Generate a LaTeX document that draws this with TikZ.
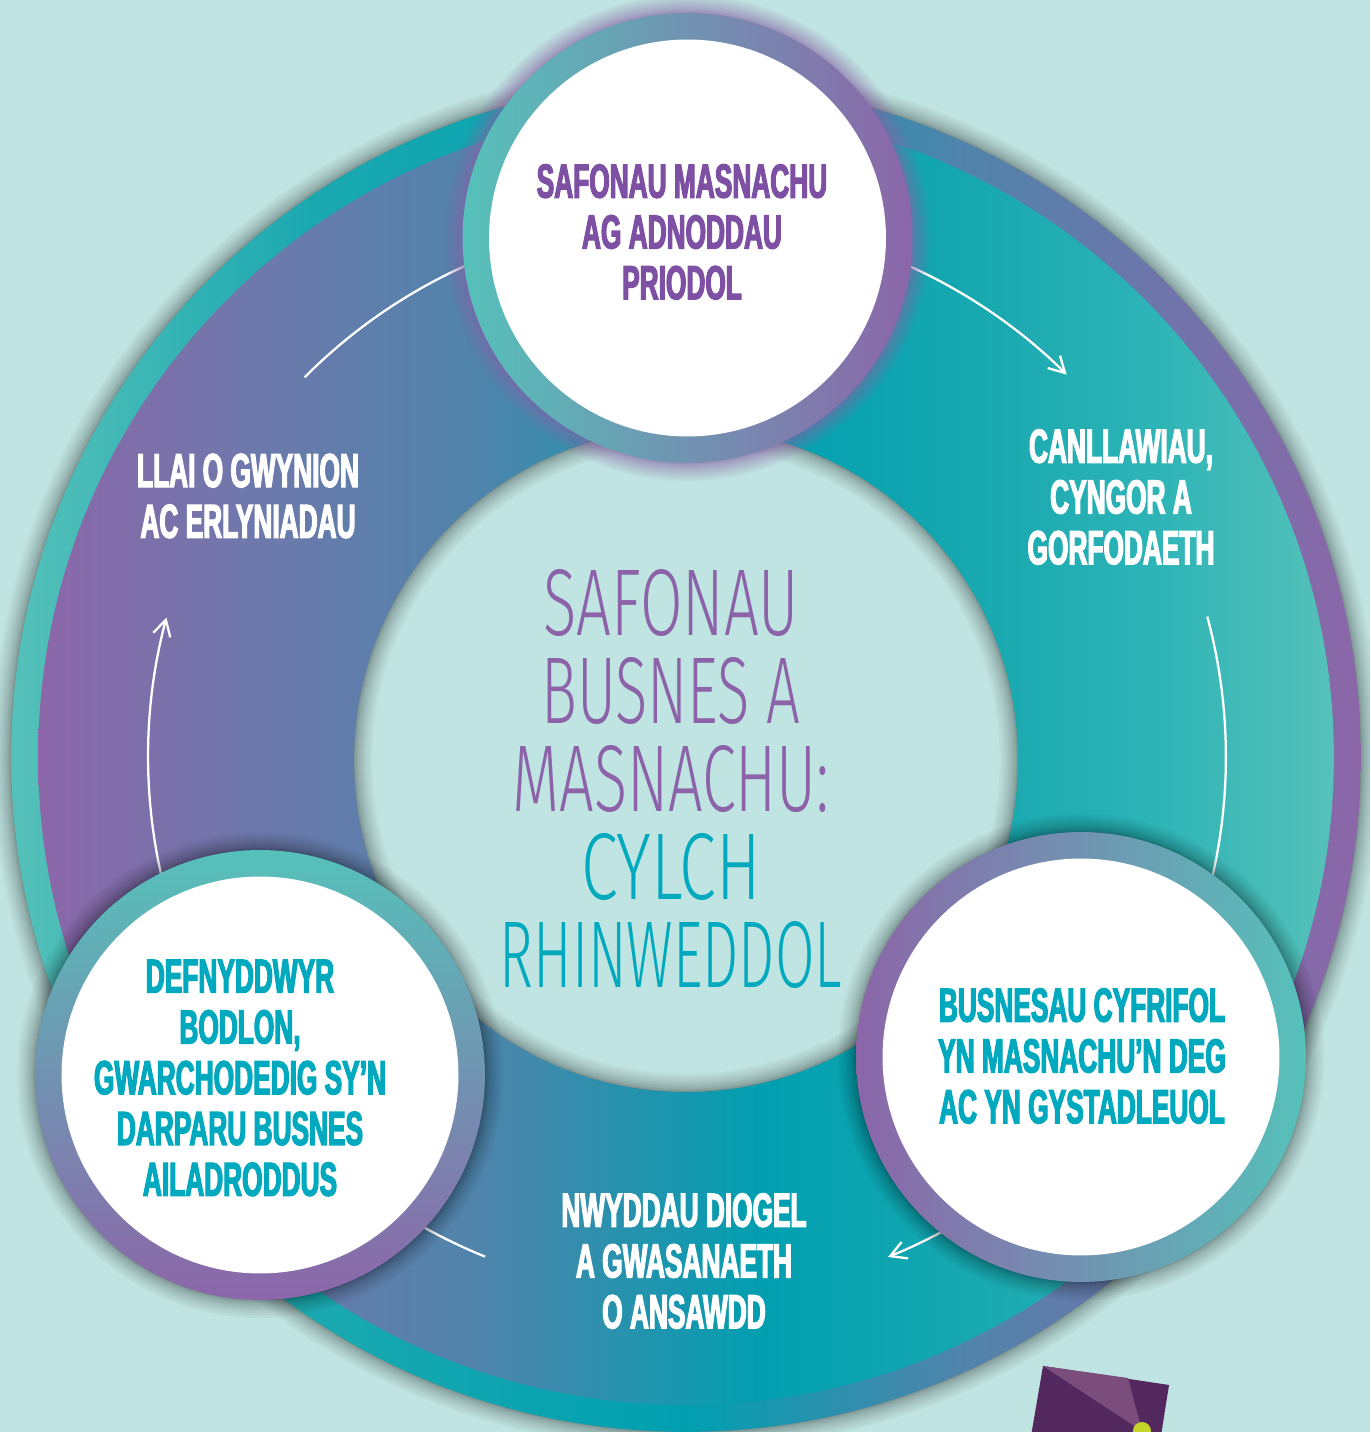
\documentclass[tikz,border=0pt]{standalone}
\usepackage{fontspec}
\usetikzlibrary{arrows.meta}
\newfontfamily\bebas[FakeStretch=0.55,FakeBold=2.5]{Liberation Sans Bold}
\newfontfamily\thinf{Fira Sans Light}
\newcommand{\lw}[2]{{\addfontfeature{FakeStretch=#1}#2}}
\definecolor{bgc}{HTML}{C0E4E1}
\definecolor{pur}{HTML}{8C66A9}
\definecolor{tealL}{HTML}{56C1BA}
\definecolor{blueA}{HTML}{6F78AB}
\definecolor{blueB}{HTML}{4F84AB}
\definecolor{tealM}{HTML}{009FB0}
\definecolor{tealN}{HTML}{1AA9B0}
\definecolor{tealO}{HTML}{2DB4B6}
\definecolor{tealP}{HTML}{1BA9B0}
\definecolor{txtP}{HTML}{8C62A9}
\definecolor{txtD}{HTML}{7E50A3}
\definecolor{txtT}{HTML}{00A9BE}
\definecolor{dkP}{HTML}{52285F}
\definecolor{ltP}{HTML}{7B4D7C}
\definecolor{yel}{HTML}{C4D52A}
\pgfdeclarehorizontalshading{outerband}{100bp}{color(0bp)=(tealL); color(25bp)=(tealL); color(36bp)=(tealP); color(50bp)=(tealM); color(60bp)=(blueB); color(75bp)=(pur); color(100bp)=(pur)}
\pgfdeclarehorizontalshading{innerband}{100bp}{color(0bp)=(pur); color(25bp)=(pur); color(33bp)=(blueA); color(42bp)=(blueB); color(53bp)=(tealM); color(62bp)=(tealN); color(68bp)=(tealO); color(75bp)=(tealL); color(100bp)=(tealL)}
\tikzset{
  px/.style={x=0.02cm,y=0.02cm},
  ringnode/.style={circle,inner sep=0pt,minimum size=9cm},
  facenode/.style={circle,inner sep=0pt,minimum size=7.94cm,fill=white},
  lab/.style={font=\bebas\fontsize{27.2}{28.9}\selectfont,align=center,inner sep=0pt},
  bigt/.style={font=\thinf\fontsize{54}{49.9}\selectfont,align=center,inner sep=0pt},
  flow/.style={draw=white,line width=1.3pt},
  tipped/.style={flow,-{Straight Barb[length=9pt,width=10pt,line width=1.3pt]}},
  soft/.style={fill=black,opacity=0.03},
  glow/.style={fill=pur,opacity=0.08},
}
\begin{document}
\begin{tikzpicture}[px]
\useasboundingbox (0,0) rectangle (1370,1432);
\clip (0,0) rectangle (1370,1432);
\fill[bgc] (0,0) rectangle (1370,1432);
% ring
\coordinate (hub) at (686,675);
\coordinate (hole) at (686,672);
\coordinate (flowhub) at (687,675);
\foreach \i in {1,...,14}{\fill[soft] (hub) circle[radius=13.5cm+\i*\i*0.00184cm];}
\shade[shading=outerband] (hub) circle[radius=13.5cm];
\shade[shading=innerband] (hub) circle[radius=12.96cm];
\fill[bgc] (hole) circle[radius=6.64cm];
\foreach \i in {1,...,14}{\fill[soft,even odd rule] (hole) circle[radius=6.64cm] circle[radius=6.64cm-\i*\i*0.00184cm];}
% connectors
\path (flowhub) ++(65.5:10.78cm) coordinate (a1s);
\draw[tipped] (a1s) arc[start angle=65.5,end angle=45.2,radius=10.78cm];
\path (flowhub) ++(15.1:10.78cm) coordinate (a2s);
\draw[flow] (a2s) arc[start angle=15.1,end angle=-13.5,radius=10.78cm];
\path (flowhub) ++(-61.8:10.78cm) coordinate (a3s);
\draw[tipped] (a3s) arc[start angle=-61.8,end angle=-68.1,radius=10.78cm];
\path (flowhub) ++(-112:10.78cm) coordinate (a4s);
\draw[flow] (a4s) arc[start angle=-112,end angle=-120,radius=10.78cm];
\path (flowhub) ++(192.5:10.78cm) coordinate (a5s);
\draw[tipped] (a5s) arc[start angle=192.5,end angle=165,radius=10.78cm];
\path (flowhub) ++(135.2:10.78cm) coordinate (a6s);
\draw[flow] (a6s) arc[start angle=135.2,end angle=114,radius=10.78cm];
% circle shadows
\coordinate (ct) at (687.5,1194);
\coordinate (cr) at (1081,375);
\coordinate (cl) at (260,357);
\foreach \i in {1,...,14}{\fill[glow] (ct) circle[radius=4.5cm+\i*\i*0.00184cm];}
\foreach \c in {cr,cl}{\foreach \i in {1,...,14}{\fill[soft] (\c) circle[radius=4.5cm+\i*\i*0.00184cm];}}
% circles
\node[ringnode,left color=tealL,right color=pur] (ringt) at (ct) {};
\node[facenode] (facet) at (ct) {};
\node[ringnode,left color=pur,right color=tealL] (ringr) at (cr) {};
\node[facenode] (facer) at (cr) {};
\node[ringnode,top color=tealL,bottom color=pur] (ringl) at (cl) {};
\node[facenode] (facel) at (cl) {};
% labels
\node[lab,text=txtD] (t1) at (682,1200) {SAFONAU MASNACHU\\AG ADNODDAU\\PRIODOL};
\node[lab,text=white] (t2) at (1121,935) {CANLLAWIAU,\\CYNGOR A\\GORFODAETH};
\node[lab,text=txtT] (t3) at (1082,376) {BUSNESAU CYFRIFOL\\YN MASNACHU’N DEG\\AC YN GYSTADLEUOL};
\node[lab,text=white] (t4) at (684,171) {NWYDDAU DIOGEL\\A GWASANAETH\\O ANSAWDD};
\node[lab,text=txtT] (t5) at (240,354) {DEFNYDDWYR\\BODLON,\\GWARCHODEDIG SY’N\\DARPARU BUSNES\\AILADRODDUS};
\node[lab,text=white] (t6) at (248,936) {LLAI O GWYNION\\AC ERLYNIADAU};
\node[bigt,text=txtP] (h1) at (671,741) {\lw{0.65}{SAFONAU}\\\lw{0.63}{BUSNES A}\\\lw{0.645}{MASNACHU:}};
\node[bigt,text=txtT] (h2) at (671,521) {\lw{0.7}{CYLCH}\\\lw{0.605}{RHINWEDDOL}};
% corner artwork
\fill[dkP] (1043,66) -- (1169,47) -- (1160,-10) -- (1030,-10) -- cycle;
\fill[ltP] (1043,66) -- (1128,54) -- (1142,1) -- cycle;
\fill[yel] (1142,1) circle[radius=0.18cm];
\end{tikzpicture}
\end{document}
